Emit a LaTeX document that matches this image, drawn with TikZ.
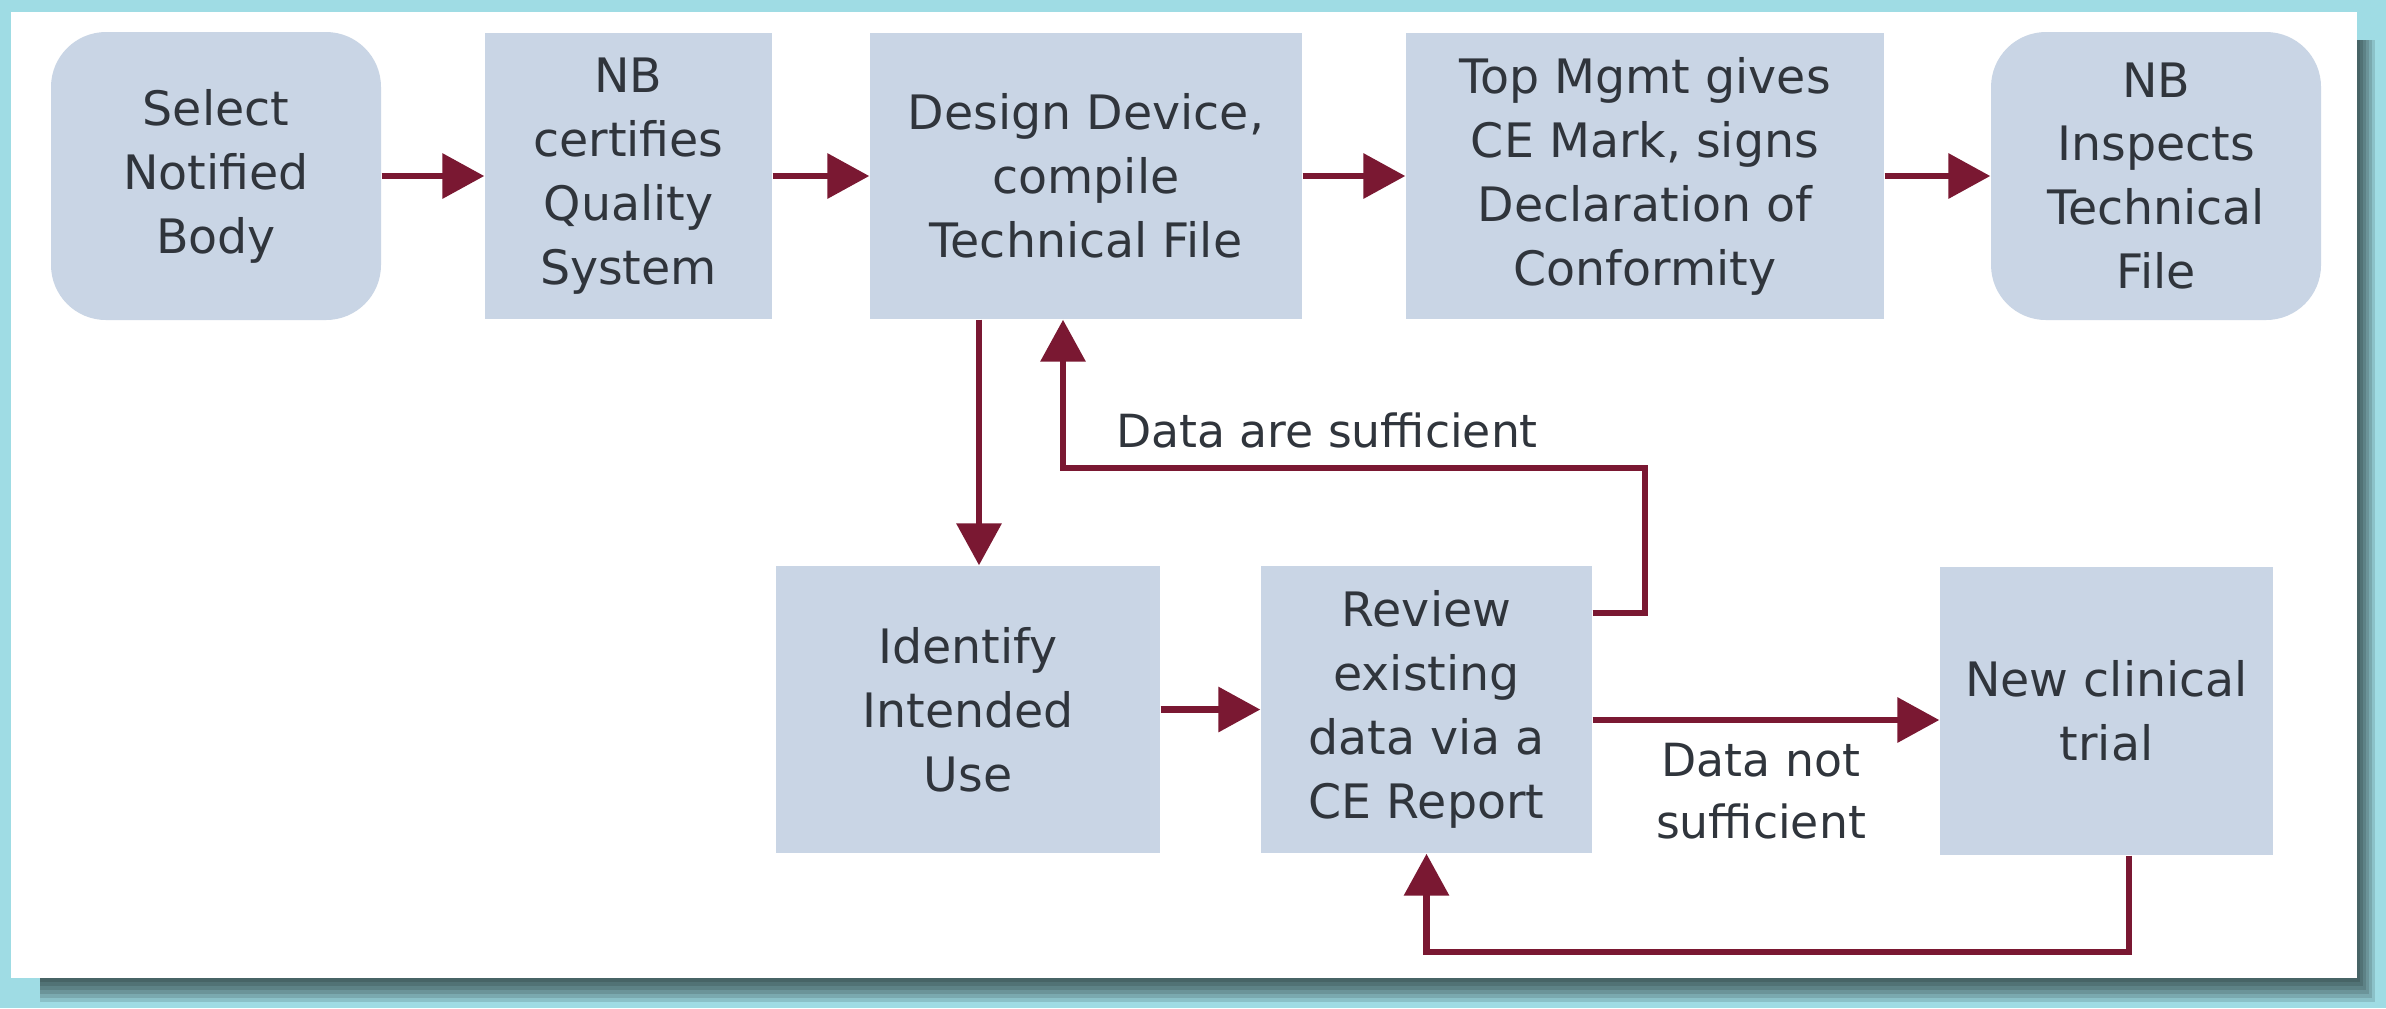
\documentclass[tikz,border=0pt]{standalone}
\usepackage{fontspec}
\setmainfont{DejaVu Sans}
\usetikzlibrary{arrows.meta}
\definecolor{bgcyan}{HTML}{9FDCE4}
\definecolor{boxfill}{HTML}{C9D5E5}
\definecolor{arrowred}{HTML}{7A1832}
\definecolor{txt}{HTML}{30353C}
\begin{document}
\begin{tikzpicture}[x=0.1mm,y=-0.1mm,
  box/.style={fill=boxfill, draw=none, align=center, text=txt,
    font=\fontsize{13.5}{18.2}\selectfont, inner sep=0pt},
  rbox/.style={box, rounded corners=5.5mm},
  arr/.style={draw=arrowred, line width=1.9pt, -{Triangle[length=4.2mm,width=4.4mm]}},
  lbl/.style={text=txt, font=\fontsize{13}{17.5}\selectfont, align=center, inner sep=0pt}]
\useasboundingbox (0,0) rectangle (2386,1008);
% background and panel
\fill[bgcyan] (0,0) rectangle (2386,1008);
\foreach \i in {1,...,6} \fill[black, opacity=0.12] (40,40) rectangle (2357+3*\i, 978+4*\i);
\fill[white] (11,12) rectangle (2357,978);
% nodes
\node[rbox, minimum width=33mm, minimum height=28.8mm] (n1) at (216,176) {Select\\Notified\\Body};
\node[box, minimum width=28.7mm, minimum height=28.6mm] (n2) at (628.5,176) {NB\\certifies\\Quality\\System};
\node[box, minimum width=43.2mm, minimum height=28.6mm] (n3) at (1086,176) {Design Device,\\compile\\Technical File};
\node[box, minimum width=47.8mm, minimum height=28.6mm] (n4) at (1645,176) {Top Mgmt gives\\CE Mark, signs\\Declaration of\\Conformity};
\node[rbox, minimum width=33mm, minimum height=28.8mm] (n5) at (2156,176) {NB\\Inspects\\Technical\\File};
\node[box, minimum width=38.4mm, minimum height=28.7mm] (n6) at (968,709.5) {Identify\\Intended\\Use};
\node[box, minimum width=33.1mm, minimum height=28.7mm] (n7) at (1426.5,709.5) {Review\\existing\\data via a\\CE Report};
\node[box, minimum width=33.3mm, minimum height=28.8mm] (n8) at (2106.5,711) {New clinical\\trial};
% helper coordinates
\coordinate (r1) at (1645,468);
\coordinate (r2) at (2129,952);
\coordinate (r3) at (1600,720);
% connectors
\draw[arr] (n1.east) -- (n2.west);
\draw[arr] (n2.east) -- (n3.west);
\draw[arr] (n3.east) -- (n4.west);
\draw[arr] (n4.east) -- (n5.west);
\draw[arr] ([xshift=1.1mm]n6.north |- n3.south) -- ([xshift=1.1mm]n6.north);
\draw[arr] (n6.east) -- (n7.west);
\draw[arr] ([yshift=9.65mm]n7.east) -| (r1) -| ([xshift=-2.3mm]n3.south);
\draw[arr] (n7.east |- r3) -- (n8.west |- r3);
\draw[arr] (r2 |- n8.south) -- (r2) -| (n7.south);
% labels
\node[lbl] (l1) at (1327,430) {Data are sufficient};
\node[lbl] (l2) at (1761,791) {Data not\\sufficient};
\end{tikzpicture}
\end{document}
